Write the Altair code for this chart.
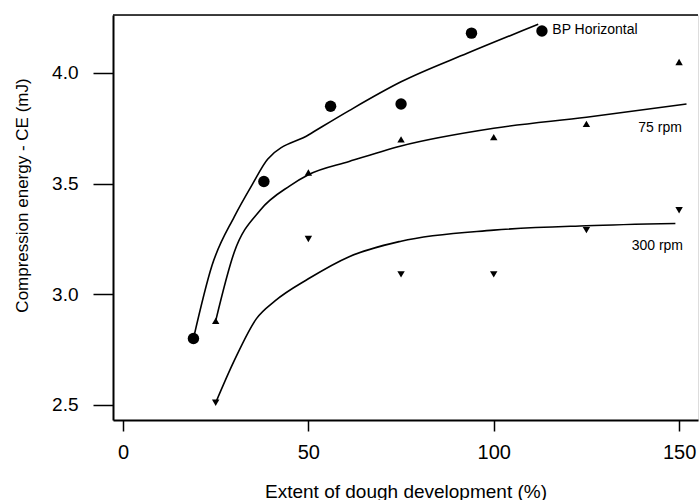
import altair as alt
import pandas as pd

# Observed data points
bp_x = [19, 38, 56, 75, 94, 113]
bp_y = [2.80, 3.51, 3.85, 3.86, 4.18, 4.19]
r75_x = [25, 50, 75, 100, 125, 150]
r75_y = [2.88, 3.55, 3.70, 3.71, 3.77, 4.05]
r300_x = [25, 50, 75, 100, 125, 150]
r300_y = [2.51, 3.25, 3.09, 3.09, 3.29, 3.38]

# Fitted curves
bp_fit_x = [19, 24, 30, 35, 39, 50, 61, 75, 93, 112]
bp_fit_y = [2.80, 3.13, 3.35, 3.50, 3.61, 3.72, 3.83, 3.96, 4.09, 4.22]
r75_fit_x = [25, 30, 37, 45, 50, 61, 75, 100, 125, 152]
r75_fit_y = [2.88, 3.19, 3.38, 3.49, 3.54, 3.60, 3.67, 3.75, 3.80, 3.86]
r300_fit_x = [25, 30, 36, 41, 50, 61, 75, 100, 125, 149]
r300_fit_y = [2.51, 2.70, 2.89, 2.97, 3.07, 3.17, 3.24, 3.29, 3.31, 3.32]

# Curve labels
lab_text = ["BP Horizontal", "75 rpm", "300 rpm"]
lab_x = [115.8, 139.0, 137.2]
lab_y = [4.195, 3.75, 3.217]

x_ticks = [0, 50, 100, 150]
y_ticks = [2.5, 3.0, 3.5, 4.0]

W, H = 585, 405
FONT = "Liberation Sans"

xs = alt.Scale(domain=[-2.7, 155.1], nice=False, zero=False)
ys = alt.Scale(domain=[2.432, 4.262], nice=False, zero=False)

pts = pd.DataFrame({
    "x": bp_x + r75_x + r300_x,
    "y": bp_y + r75_y + r300_y,
    "s": ["bp"] * len(bp_x) + ["r75"] * len(r75_x) + ["r300"] * len(r300_x),
})
fits = pd.DataFrame({
    "x": bp_fit_x + r75_fit_x + r300_fit_x,
    "y": bp_fit_y + r75_fit_y + r300_fit_y,
    "s": ["bp"] * len(bp_fit_x) + ["r75"] * len(r75_fit_x) + ["r300"] * len(r300_fit_x),
})
labs = pd.DataFrame({"x": lab_x, "y": lab_y, "t": lab_text})

xaxis = alt.Axis(
    values=x_ticks, title="Extent of dough development (%)", grid=False,
    tickSize=11, tickWidth=1.5, tickColor="black", domainColor="black", domainWidth=2,
    labelFont=FONT, labelFontSize=20, labelColor="black", labelPadding=11,
    titleFont=FONT, titleFontSize=19, titleFontWeight="normal", titleColor="black",
    titleY=77, titleBaseline="alphabetic",
)
yaxis = alt.Axis(
    values=y_ticks, format=".1f", title="Compression energy - CE (mJ)", grid=False,
    tickSize=20, tickWidth=1.5, tickColor="black", domainColor="black", domainWidth=2,
    labelFont=FONT, labelFontSize=19, labelColor="black", labelPadding=15,
    titleFont=FONT, titleFontSize=17, titleFontWeight="normal", titleColor="black",
    titleX=-82, titleY=180,
)

base_x = alt.X("x:Q", scale=xs, axis=xaxis)
base_y = alt.Y("y:Q", scale=ys, axis=yaxis)

lines = alt.Chart(fits).mark_line(color="black", strokeWidth=1.6, interpolate="monotone").encode(
    x=base_x, y=base_y, detail="s:N"
)

circ = alt.Chart(pts).transform_filter(alt.datum.s == "bp").mark_point(
    shape="circle", filled=True, color="black", size=130, opacity=1
).encode(x="x:Q", y="y:Q")
up = alt.Chart(pts).transform_filter(alt.datum.s == "r75").mark_point(
    shape="triangle-up", filled=True, color="black", size=55, opacity=1
).encode(x="x:Q", y="y:Q")
down = alt.Chart(pts).transform_filter(alt.datum.s == "r300").mark_point(
    shape="triangle-down", filled=True, color="black", size=55, opacity=1
).encode(x="x:Q", y="y:Q")

texts = alt.Chart(labs).mark_text(
    align="left", baseline="middle", font=FONT, fontSize=14, color="black"
).encode(x="x:Q", y="y:Q", text="t:N")

top = alt.Chart(pd.DataFrame({"a": [0]})).mark_rule(color="black", strokeWidth=1.5).encode(
    x=alt.value(0), x2=alt.value(W), y=alt.value(0)
)

chart = alt.layer(lines, circ, up, down, texts, top).properties(
    width=W, height=H,
    autosize=alt.AutoSizeParams(type="none"),
    padding={"left": 113, "top": 15, "right": 1, "bottom": 80},
).configure_view(stroke=None).configure(background="white")

chart.save("out.html", embed_options={"renderer": "svg", "actions": False})
